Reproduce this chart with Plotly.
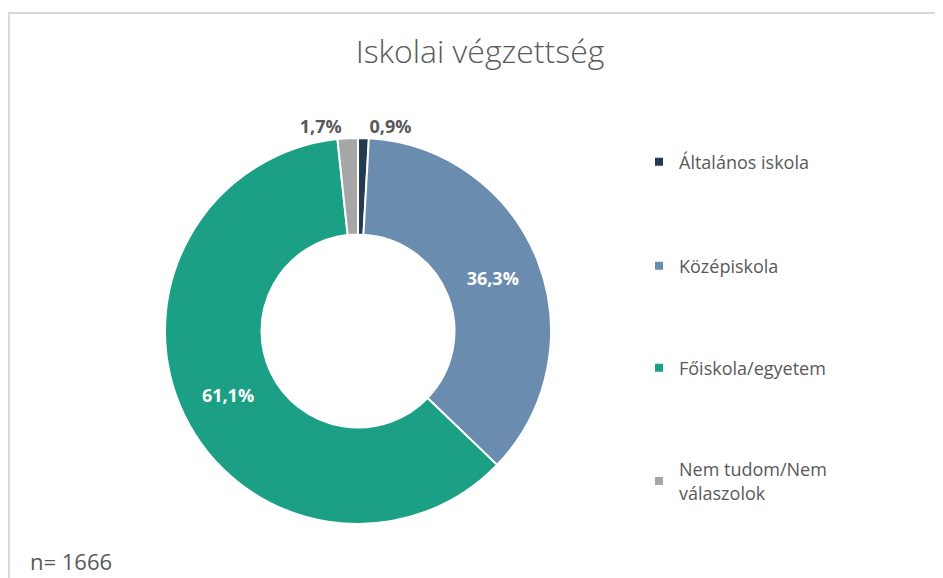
import plotly.graph_objects as go

categories = ["Általános iskola", "Középiskola", "Főiskola/egyetem", "Nem tudom/Nem válaszolok"]
legend_labels = ["Általános iskola", "Középiskola", "Főiskola/egyetem", "Nem tudom/Nem<br>válaszolok"]
values = [0.9, 36.3, 61.1, 1.7]
colors = ["#243a50", "#6a8caf", "#1ba085", "#a6a6a6"]
label_text = [f"{v:.1f}%".replace(".", ",") for v in values]
text_pos = ["outside", "inside", "inside", "outside"]
text_colors = ["#595959", "#ffffff", "#ffffff", "#595959"]

W, H = 943, 578
OFF = 8  # page body margin
FONT = "Open Sans"
GREY = "#595959"


def px(X):
    return (X - OFF) / W


def py(Y):
    return 1 - (Y - OFF) / H


fig = go.Figure()
fig.add_trace(go.Pie(
    labels=categories,
    values=values,
    text=label_text,
    texttemplate="%{text}",
    textposition=text_pos,
    textfont=dict(family=FONT, size=18, color=text_colors, weight="bold"),
    insidetextorientation="horizontal",
    hole=0.5,
    sort=False,
    direction="clockwise",
    rotation=0,
    marker=dict(colors=colors, line=dict(color="white", width=2)),
    showlegend=False,
    domain=dict(x=[px(165), px(551)], y=[py(524), py(138)]),
    hoverinfo="label+percent",
))

legend_y = [162, 266, 368, 481]
legend_names = ["legend", "legend2", "legend3", "legend4"]
for name, lab, col in zip(legend_names, legend_labels, colors):
    fig.add_trace(go.Scatter(
        x=[None], y=[None], mode="markers",
        marker=dict(symbol="square", size=8, color=col),
        name=lab, legend=name, showlegend=True,
    ))

layout_legends = {}
for name, yy in zip(legend_names, legend_y):
    layout_legends[name] = dict(
        x=px(639), xanchor="left", y=py(yy), yanchor="middle",
        font=dict(family=FONT, size=18, color=GREY),
        bgcolor="rgba(0,0,0,0)", itemwidth=30,
    )

fig.update_layout(
    width=W, height=H,
    margin=dict(l=0, r=0, t=0, b=0),
    paper_bgcolor="white", plot_bgcolor="white",
    xaxis=dict(visible=False), yaxis=dict(visible=False),
    title=dict(text="Iskolai végzettség", x=px(480), xanchor="center",
               y=py(52), yanchor="middle",
               font=dict(family=FONT, size=32, color=GREY, weight=300)),
    shapes=[dict(type="rect", xref="paper", yref="paper",
                 x0=0.001, x1=1.02, y0=-0.05, y1=py(13),
                 line=dict(color="#d9d9d9", width=2), fillcolor="rgba(0,0,0,0)")],
    annotations=[dict(text="n= 1666", xref="paper", yref="paper",
                      x=px(28), xanchor="left", y=py(561), yanchor="middle",
                      showarrow=False, font=dict(family=FONT, size=22, color=GREY))],
    **layout_legends,
)

fig.write_html("out.html")
